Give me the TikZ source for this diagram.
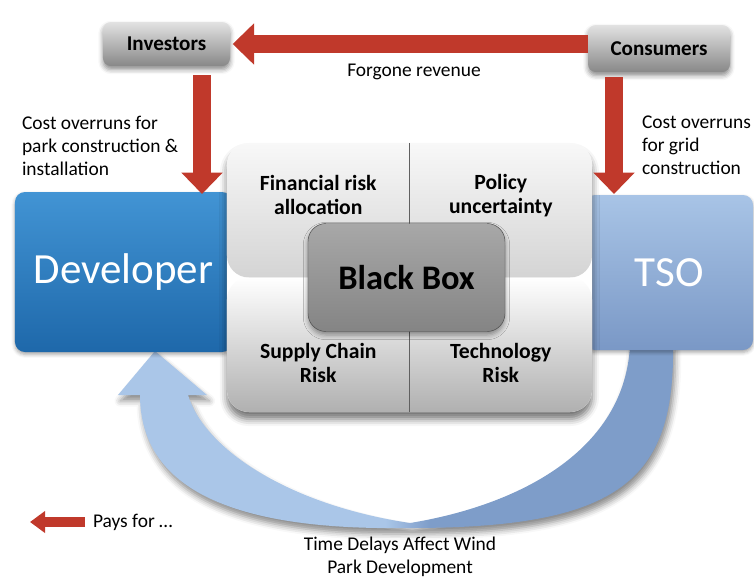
\documentclass[tikz,border=0pt]{standalone}
\usepackage{fontspec}
\setmainfont{Carlito}
\usetikzlibrary{arrows.meta,calc,shadows.blur}

\definecolor{payred}{RGB}{192,57,43}
\definecolor{devtop}{RGB}{66,148,212}
\definecolor{devbot}{RGB}{30,104,170}
\definecolor{tsotop}{RGB}{168,196,230}
\definecolor{tsobot}{RGB}{122,152,198}
\definecolor{loopleft}{RGB}{170,198,232}
\definecolor{loopright}{RGB}{126,157,201}
\definecolor{celltop}{RGB}{248,248,248}
\definecolor{cellbot}{RGB}{176,176,176}
\definecolor{boxtop}{RGB}{226,226,226}
\definecolor{boxbot}{RGB}{136,136,136}
\definecolor{bbtop}{RGB}{168,168,168}
\definecolor{bbbot}{RGB}{132,132,132}

\pgfdeclarehorizontalshading{loopshade}{100bp}{color(0bp)=(loopleft); color(49bp)=(loopleft); color(53bp)=(loopright); color(100bp)=(loopright)}

\begin{document}
\begin{tikzpicture}[x=0.03cm,y=-0.03cm,
    every node/.style={inner sep=0pt,outer sep=0pt},
    note/.style={font=\fontsize{16.6}{19.8}\selectfont,align=left},
    actor/.style={rounded corners=0.24cm,top color=boxtop,bottom color=boxbot,
        blur shadow={shadow xshift=0pt,shadow yshift=-3pt,shadow blur radius=4pt,shadow opacity=45},
        font=\bfseries\fontsize{18}{20}\selectfont},
    party/.style={rounded corners=0.3cm,text=white,font=\fontsize{36.7}{40}\selectfont,
        blur shadow={shadow xshift=0pt,shadow yshift=-2pt,shadow blur radius=3pt,shadow opacity=35}},
    riskgrid/.style={rounded corners=0.66cm,fill=white,
        blur shadow={shadow xshift=0pt,shadow yshift=-6pt,shadow blur radius=6pt,shadow opacity=55},
        path picture={
            \shade[top color=celltop,bottom color=cellbot]
                (path picture bounding box.north west) rectangle (path picture bounding box.east);
            \shade[top color=white,bottom color=cellbot]
                (path picture bounding box.west) rectangle (path picture bounding box.south east);
            \draw[line width=1.5pt,gray!75!black]
                (path picture bounding box.north) -- (path picture bounding box.south);
        }},
    darkbox/.style={rounded corners=0.54cm,top color=bbtop,bottom color=bbbot,draw=gray!60!black,
        blur shadow={shadow xshift=0pt,shadow yshift=-3pt,shadow blur radius=4pt,shadow opacity=40},
        font=\bfseries\fontsize{29.4}{32}\selectfont},
    cell/.style={font=\bfseries\fontsize{18.5}{20.5}\selectfont,align=center},
    pays/.style={draw=payred,line width=0.56cm,-{Triangle[length=0.64cm,width=1.2cm]}}]

    \useasboundingbox (0,0) rectangle (754,578);

    % time delay loop from TSO back to the developer
    \path[shading=loopshade,
        blur shadow={shadow xshift=2pt,shadow yshift=-5pt,shadow blur radius=5pt,shadow opacity=45}]
        (673,345) .. controls (675,480) and (620,528) .. (410,528)
        .. controls (280,530) and (140,510) .. (140,395)
        -- (118,395) -- (155,351) -- (207,395) -- (188,395)
        .. controls (205,450) and (290,505) .. (410,523)
        .. controls (520,505) and (625,450) .. (630,345)
        -- cycle;

    \node[party,top color=devtop,bottom color=devbot,minimum width=6.51cm,minimum height=4.8cm]
        (dev) at (123.5,272) {Developer};
    \node[party,top color=tsotop,bottom color=tsobot,minimum width=5.04cm,minimum height=4.65cm]
        (tso) at (669,272.5) {TSO\hspace{0.42cm}};

    \node[riskgrid,minimum width=10.95cm,minimum height=8.07cm] (riskbox) at (409.5,277.5) {};
    \node[cell] (finrisk) at ($(riskbox.north west)!0.5!(riskbox.north)+(0,52)$) {Financial risk\\allocation};
    \node[cell] (policy) at ($(riskbox.north)!0.5!(riskbox.north east)+(0,53)$) {Policy\\uncertainty};
    \node[cell] (supply) at ($(riskbox.south west)!0.5!(riskbox.south)+(0,-49)$) {Supply Chain\\Risk};
    \node[cell] (techrisk) at ($(riskbox.south)!0.5!(riskbox.south east)+(0,-49)$) {Technology\\Risk};
    \node[darkbox,minimum width=5.91cm,minimum height=3.24cm] (blackbox) at ($(riskbox.center)+(-3,0)$) {Black Box};

    \node[actor,minimum width=3.81cm,minimum height=1.32cm] (inv) at (166.5,44) {Investors};
    \node[actor,minimum width=4.26cm,minimum height=1.41cm] (con) at (659,48.5) {Consumers};

    \coordinate (invdrop) at ($(inv.south)+(35.5,9)$);
    \coordinate (condrop) at ($(con.south)+(-45,5)$);
    \draw[pays] (con.west |- inv.east) -- ([xshift=0.08cm]inv.east);
    \draw[pays] (invdrop) -- ($(invdrop |- dev.north)+(0,2)$);
    \draw[pays] (condrop) -- ($(condrop |- tso.north)+(0,-1)$);

    \node[note] (forgone) at (414,72) {Forgone revenue};
    \node[note,anchor=west] (parkcost) at (22,146) {Cost overruns for\\park construction \&\\installation};
    \node[note,anchor=west] (gridcost) at (642,145) {Cost overruns\\for grid\\construction};
    \node[note,align=center] (delays) at (400,557) {Time Delays Affect Wind\\Park Development};

    \node[note,anchor=west] (legend) at (93,522) {Pays for …};
    \coordinate (legendtail) at ($(legend.west)+(-8,0)$);
    \coordinate (legendtip) at ($(legend.west)+(-63,0)$);
    \draw[pays,line width=0.3cm,-{Triangle[length=0.45cm,width=0.63cm]}] (legendtail) -- (legendtip);
\end{tikzpicture}
\end{document}
